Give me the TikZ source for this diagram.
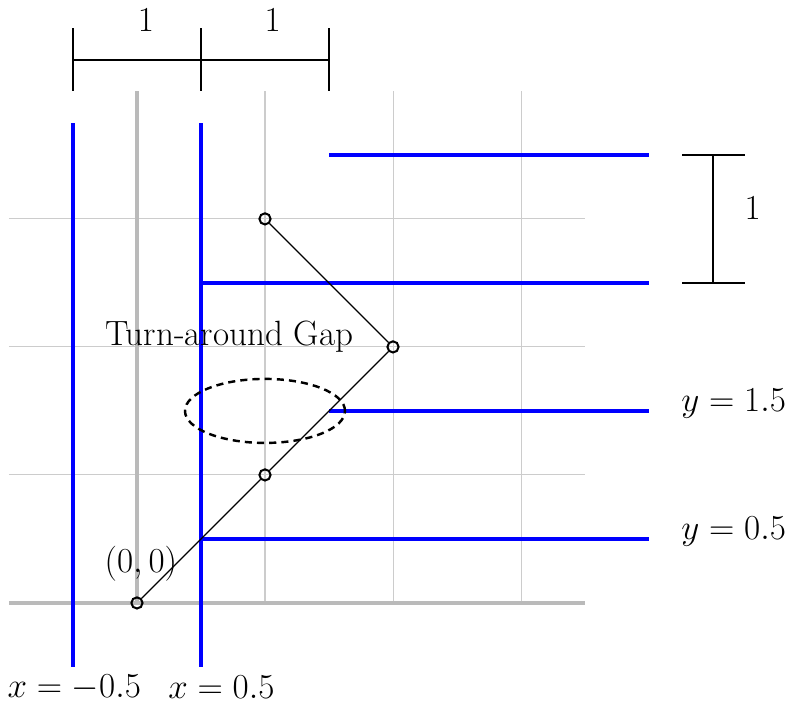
\documentclass[tikz,border=0pt]{standalone}
\usetikzlibrary{shapes.geometric}
\begin{document}
\begin{tikzpicture}[x=2.215cm,y=2.215cm,font=\LARGE,
  gridline/.style={black!20,line width=0.5pt},
  axisline/.style={black!27,line width=1.8pt},
  wall/.style={blue,line width=1.8pt},
  dimline/.style={black,line width=0.65pt},
  pt/.style={circle,draw,line width=1pt,inner sep=0pt,minimum size=5.5pt},
  lbl/.style={inner sep=0pt}]
\useasboundingbox (-1.07,-0.8125) rectangle (5.07,4.71);
% grid
\foreach \x in {1,2,3} \draw[gridline] (\x,0) -- (\x,4);
\foreach \y in {1,2,3} \draw[gridline] (-1,\y) -- (3.5,\y);
% axes
\draw[axisline] (-1,0) -- (3.5,0);
\draw[axisline] (0,0) -- (0,4);
% walls
\draw[wall] (-0.5,-0.5) -- (-0.5,3.75);
\draw[wall] (0.5,-0.5) -- (0.5,3.75);
\draw[wall] (0.5,0.5) -- (4,0.5);
\draw[wall] (1.5,1.5) -- (4,1.5);
\draw[wall] (0.5,2.5) -- (4,2.5);
\draw[wall] (1.5,3.5) -- (4,3.5);
% path points
\node[pt] (p0) at (0,0) {};
\node[pt] (p1) at (1,1) {};
\node[pt] (p2) at (2,2) {};
\node[pt] (p3) at (1,3) {};
\draw[line width=0.6pt] (p0) -- (p1) -- (p2) -- (p3);
% gap ellipse
\node[ellipse,draw,dash pattern=on 3.5pt off 2.5pt,line width=1.2pt,minimum width=1.25*2.215cm,minimum height=0.5*2.215cm,inner sep=0pt] (gap) at (1,1.5) {};
\node[lbl] (gaplbl) at (0.72,2.08) {Turn-around Gap};
\node[lbl] (orig) at (0.03,0.31) {$(0,0)$};
% top dimension
\coordinate (t0) at (-0.5,4.24);
\coordinate (t1) at (0.5,4.24);
\coordinate (t2) at (1.5,4.24);
\draw[dimline] (t0) -- (t1) -- (t2);
\foreach \x in {-0.5,0.5,1.5} \draw[dimline] (\x,4.0) -- (\x,4.49);
\node[lbl] (d1) at (0.07,4.55) {$1$};
\node[lbl] (d2) at (1.06,4.55) {$1$};
% right dimension
\coordinate (r0) at (4.5,2.5);
\coordinate (r1) at (4.5,3.5);
\draw[dimline] (r0) -- (r1);
\draw[dimline] (4.26,2.5) -- (4.75,2.5);
\draw[dimline] (4.26,3.5) -- (4.75,3.5);
\node[lbl] (d3) at (4.81,3.08) {$1$};
% labels
\node[lbl,anchor=west] (ly15) at (4.25,1.555) {$y = 1.5$};
\node[lbl,anchor=west] (ly05) at (4.25,0.555) {$y = 0.5$};
\node[lbl] (lxm) at (-0.49,-0.66) {$x = -0.5$};
\node[lbl] (lxp) at (0.66,-0.66) {$x = 0.5$};
\end{tikzpicture}
\end{document}
